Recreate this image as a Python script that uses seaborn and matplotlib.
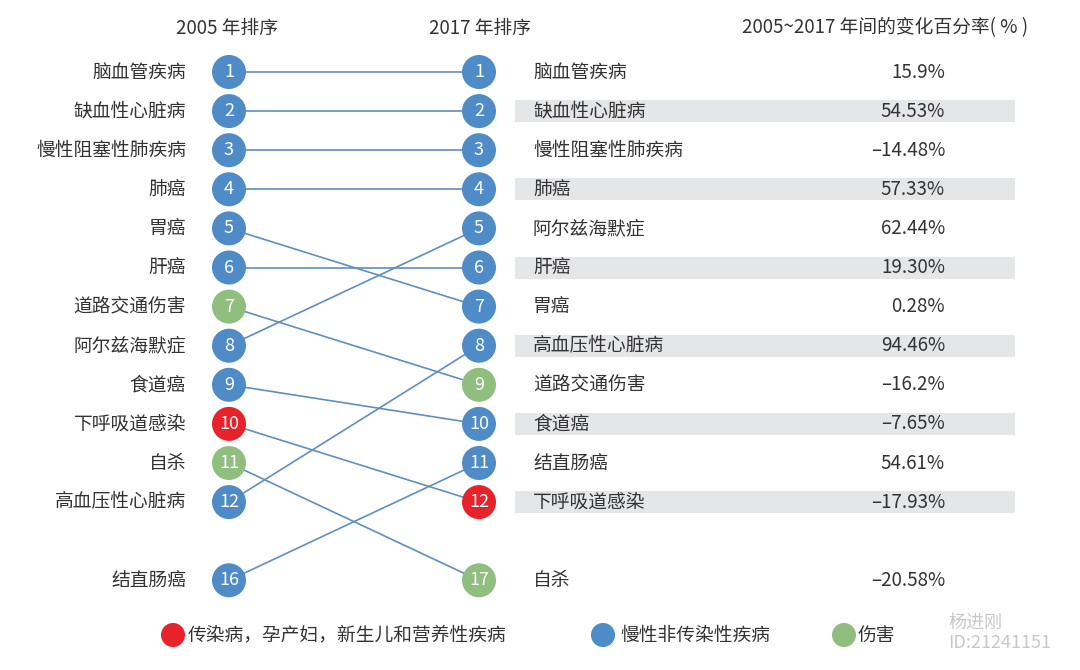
import matplotlib
matplotlib.use("Agg")
import matplotlib.pyplot as plt
import seaborn as sns
import pandas as pd
from matplotlib.patches import Rectangle

# ---------------- data ----------------
diseases = ['脑血管疾病', '缺血性心脏病', '慢性阻塞性肺疾病', '肺癌', '胃癌', '肝癌',
            '道路交通伤害', '阿尔兹海默症', '食道癌', '下呼吸道感染', '自杀',
            '高血压性心脏病', '结直肠癌']
rank_2005 = [1, 2, 3, 4, 5, 6, 7, 8, 9, 10, 11, 12, 16]
rank_2017 = [1, 2, 3, 4, 7, 6, 9, 5, 10, 12, 17, 8, 11]
category = ['慢性非传染性疾病', '慢性非传染性疾病', '慢性非传染性疾病', '慢性非传染性疾病',
            '慢性非传染性疾病', '慢性非传染性疾病', '伤害', '慢性非传染性疾病',
            '慢性非传染性疾病', '传染病，孕产妇，新生儿和营养性疾病', '伤害',
            '慢性非传染性疾病', '慢性非传染性疾病']
change_pct = [15.9, 54.53, -14.48, 57.33, 0.28, 19.30, -16.2, 62.44, -7.65,
              -17.93, -20.58, 94.46, 54.61]
change_decimals = [1, 2, 2, 2, 2, 2, 1, 2, 2, 2, 2, 2, 2]
categories = ['传染病，孕产妇，新生儿和营养性疾病', '慢性非传染性疾病', '伤害']
cat_colors = ['#e8222a', '#4f8bc6', '#8fbe7e']
headers = ['2005 年排序', '2017 年排序', '2005~2017 年间的变化百分率( % )']

# ---------------- style ----------------
sns.set_theme(style="white")
plt.rcParams['font.family'] = ['Noto Sans CJK SC', 'DejaVu Sans']
TXT = '#333333'
FS = 13.5
palette = dict(zip(categories, cat_colors))

W, H = 1080, 670
fig = plt.figure(figsize=(W / 100, H / 100), dpi=100)
ax = fig.add_axes([0, 0, 1, 1])

# y in "rank slot" units; ranks beyond 12 shown two slots below 12
def slot(r):
    return r if r <= 12 else 14

STEP = 39.1      # px per slot
TOP = 72         # px of slot 1
ax.set_xlim(0, W)
ax.set_ylim(1 + (H - TOP) / STEP, 1 - TOP / STEP)
ax.axis('off')

X_L, X_R = 229, 479

df = pd.DataFrame({
    'disease': diseases, 'cat': category,
    'r05': rank_2005, 'r17': rank_2017,
    'pct': change_pct, 'dec': change_decimals,
})
df['y05'] = df['r05'].map(slot)
df['y17'] = df['r17'].map(slot)

# connecting lines
long = pd.concat([
    pd.DataFrame({'disease': df['disease'], 'x': X_L, 'y': df['y05']}),
    pd.DataFrame({'disease': df['disease'], 'x': X_R, 'y': df['y17']}),
])
sns.lineplot(data=long, x='x', y='y', units='disease', estimator=None,
             color='#5f8fc0', lw=1.2, ax=ax, legend=False, zorder=1, sort=False)

# circles
pts = pd.concat([
    pd.DataFrame({'x': X_L, 'y': df['y05'], 'cat': df['cat'], 'r': df['r05']}),
    pd.DataFrame({'x': X_R, 'y': df['y17'], 'cat': df['cat'], 'r': df['r17']}),
])
sns.scatterplot(data=pts, x='x', y='y', hue='cat', palette=palette, s=600,
                edgecolor='none', ax=ax, legend=False, zorder=3)
for _, p in pts.iterrows():
    ax.text(p['x'], p['y'], str(p['r']), color='white', fontsize=13,
            ha='center', va='center', zorder=4)

# left labels
for _, d in df.iterrows():
    ax.text(186, d['y05'], d['disease'], ha='right', va='center',
            fontsize=FS, color=TXT)

# right table
df_r = df.sort_values('r17')
for i, (_, d) in enumerate(df_r.iterrows()):
    y = d['y17']
    if i % 2 == 1:
        ax.add_patch(Rectangle((515, y - 11 / STEP), 500, 22 / STEP,
                               facecolor='#e5e6e8', edgecolor='none', zorder=0))
    ax.text(533, y, d['disease'], ha='left', va='center', fontsize=FS, color=TXT)
    s = f"{abs(d['pct']):.{int(d['dec'])}f}%"
    if d['pct'] < 0:
        s = '–' + s
    ax.text(945, y, s, ha='right', va='center', fontsize=FS, color=TXT)

# headers
hy = 1 - (TOP - 28) / STEP
ax.text(227, hy, headers[0], ha='center', va='center', fontsize=FS, color=TXT)
ax.text(480, hy, headers[1], ha='center', va='center', fontsize=FS, color=TXT)
ax.text(885, hy, headers[2], ha='center', va='center', fontsize=FS, color=TXT)

# legend
ly = 1 + (635 - TOP) / STEP
leg = pd.DataFrame({'x': [173, 603, 844], 'y': [ly] * 3, 'cat': categories})
sns.scatterplot(data=leg, x='x', y='y', hue='cat', palette=palette, s=300,
                edgecolor='none', ax=ax, legend=False, zorder=3)
for xt, c in zip([188, 620, 858], categories):
    ax.text(xt, ly, c, ha='left', va='center', fontsize=FS, color=TXT)

# watermark
ax.text(948, 1 + (623 - TOP) / STEP, '杨进刚', ha='left', va='center',
        fontsize=13, color='#c8c8c8')
ax.text(948, 1 + (643 - TOP) / STEP, 'ID:21241151', ha='left', va='center',
        fontsize=13, color='#c8c8c8')

fig.savefig('out.png', dpi=100, facecolor='white')
